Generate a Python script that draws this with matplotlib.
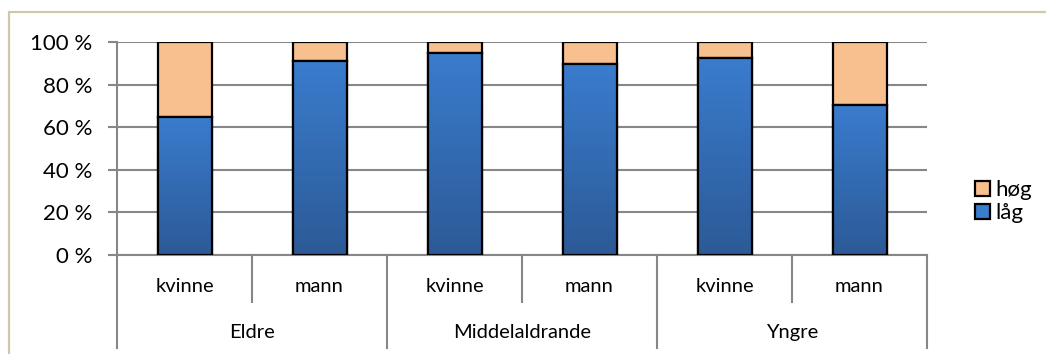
import numpy as np
import matplotlib
matplotlib.use("Agg")
import matplotlib.pyplot as plt
from matplotlib.patches import Rectangle
from matplotlib.colors import LinearSegmentedColormap

# Andel låg/høg per aldersgruppe og kjønn (prosent)
groups = ["Eldre", "Middelaldrande", "Yngre"]
genders = ["kvinne", "mann"]
lag = [65, 91, 95, 89.5, 92.5, 70.5]
hog = [35, 9, 5, 10.5, 7.5, 29.5]

plt.rcParams["font.family"] = ["Lato", "DejaVu Sans"]

W, H = 1046, 354
fig = plt.figure(figsize=(W / 100, H / 100), dpi=100)

# ramme rundt diagrammet
fig.patches.append(Rectangle((9 / W, -0.1), 1.2, (H - 12) / H + 0.1,
                             transform=fig.transFigure, fill=False,
                             edgecolor="#cfc9a8", linewidth=1.6))

ax = fig.add_axes([117 / W, 1 - 255 / H, 810 / W, 213 / H])

x = np.arange(len(lag))
blue_cmap = LinearSegmentedColormap.from_list("blue", ["#2c5a96", "#3a7cce"])
grad = np.linspace(0, 1, 256).reshape(-1, 1)

bw = 0.4
lag_bars = ax.bar(x, lag, width=bw, color="#3a7cce", edgecolor="black",
                  linewidth=1.6, zorder=3, label="låg")
hog_bars = ax.bar(x, hog, width=bw, bottom=lag, color="#f9c08f",
                  edgecolor="black", linewidth=1.6, zorder=3, label="høg")

# fargeovergang i de blå stolpene
for b in lag_bars:
    x0, y0 = b.get_x(), b.get_y()
    im = ax.imshow(grad, cmap=blue_cmap, origin="lower", aspect="auto",
                   extent=[x0, x0 + b.get_width(), y0, y0 + b.get_height()],
                   zorder=3.5)
    im.set_clip_path(b)
    ax.add_patch(Rectangle((x0, y0), b.get_width(), b.get_height(),
                           fill=False, edgecolor="black", linewidth=1.6,
                           zorder=4))

ax.set_xlim(-0.5, len(lag) - 0.5)
ax.set_ylim(0, 100)
ax.set_yticks(range(0, 101, 20))
ax.set_yticklabels([f"{v} %" for v in range(0, 101, 20)], fontsize=16)
ax.set_xticks([])
ax.tick_params(axis="y", length=6.5, width=1.5, color="#878787", pad=11)
ax.grid(axis="y", color="#878787", linewidth=1.5, zorder=0)
ax.set_axisbelow(True)
for s in ["top", "right"]:
    ax.spines[s].set_visible(False)
for s in ["left", "bottom"]:
    ax.spines[s].set_color("#878787")
    ax.spines[s].set_linewidth(1.5)

# kategoriakse i to nivå
trans = ax.get_xaxis_transform()
for i in range(len(lag)):
    ax.text(x[i], -0.15, genders[i % 2], transform=trans, ha="center",
            va="center", fontsize=14.5)
for i in range(len(lag) + 1):
    depth = -0.437 if i % 2 == 0 else -0.221
    ax.plot([i - 0.5, i - 0.5], [0, depth], transform=trans, color="#878787",
            linewidth=1.5, clip_on=False)
for g, name in enumerate(groups):
    ax.text(2 * g + 0.5, -0.366, name, transform=trans, ha="center",
            va="center", fontsize=14.5)

leg = ax.legend(handles=[hog_bars, lag_bars], loc="center left",
                bbox_to_anchor=(1.035, 0.25), frameon=False, fontsize=16,
                handlelength=0.65, handleheight=0.65, handletextpad=0.25,
                labelspacing=0.12)

fig.savefig("out.png", dpi=100)
